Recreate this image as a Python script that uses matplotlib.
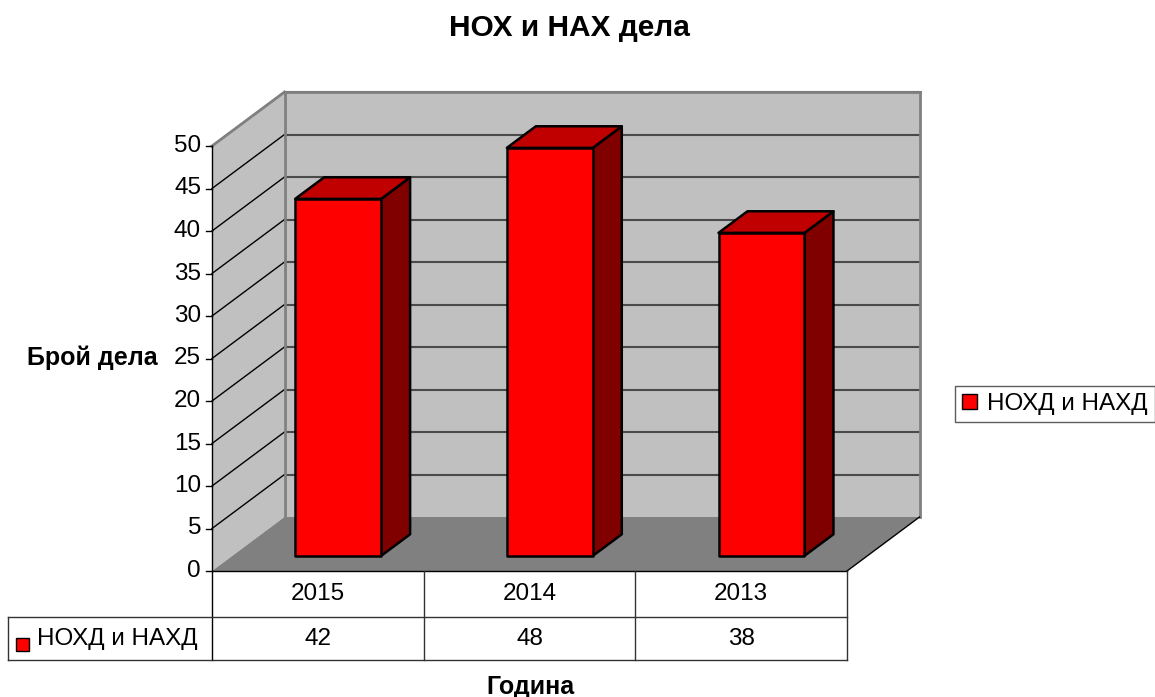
import matplotlib
matplotlib.use("Agg")
import matplotlib.pyplot as plt
from matplotlib.patches import Polygon, Rectangle, Patch

# ---------------- data ----------------
categories = ["2015", "2014", "2013"]
values = [42, 48, 38]
series_name = "НОХД и НАХД"
title = "НОХ и НАХ дела"
ylabel = "Брой дела"
xlabel = "Година"
yticks = list(range(0, 51, 5))

# ---------------- layout constants (pixels) ----------------
W, H = 1155, 697
X0, CW = 212.0, 211.67   # front-plane x of category 0, width of one category
Y0, VH = 571.0, 8.5      # front-plane y of value 0, pixels per unit
DXP, DYP = 72.5, 54.0    # depth offset in pixels
FS = 17.5

plt.rcParams['font.family'] = ['Liberation Sans', 'DejaVu Sans']

fig = plt.figure(figsize=(W / 100, H / 100), dpi=100)
ax = fig.add_axes([0, 0, 1, 1])
ax.set_xlim((0 - X0) / CW, (W - X0) / CW)
ax.set_ylim((Y0 - H) / VH, Y0 / VH)
ax.axis('off')

DX = DXP / CW
DY = DYP / VH
n = len(categories)
vmax = yticks[-1]


def px(x):
    return (x - X0) / CW


def py(y):
    return (Y0 - y) / VH


def P(u, v, d):
    """point on category axis u, value v, depth fraction d"""
    return (u + d * DX, v + d * DY)


wall = '#C0C0C0'
floor = '#808080'
edge = '#808080'

# back wall
ax.add_patch(Polygon([P(0, 0, 1), P(n, 0, 1), P(n, vmax, 1), P(0, vmax, 1)],
                     closed=True, fc=wall, ec='none', zorder=1))
# left wall
ax.add_patch(Polygon([P(0, 0, 0), P(0, 0, 1), P(0, vmax, 1), P(0, vmax, 0)],
                     closed=True, fc=wall, ec='none', zorder=1))
# floor
ax.add_patch(Polygon([P(0, 0, 0), P(n, 0, 0), P(n, 0, 1), P(0, 0, 1)],
                     closed=True, fc=floor, ec='none', zorder=1))

# gridlines
for t in yticks[1:]:
    xs, ys = zip(P(0, t, 0), P(0, t, 1))
    ax.plot(xs, ys, color='black', lw=1.0, zorder=2)
    xs, ys = zip(P(0, t, 1), P(n, t, 1))
    ax.plot(xs, ys, color='#4a4a4a', lw=1.5, zorder=2)

# wall edges
for a, b in [(P(0, 0, 1), P(0, vmax, 1)), (P(0, vmax, 0), P(0, vmax, 1)),
             (P(0, vmax, 1), P(n, vmax, 1)), (P(n, vmax, 1), P(n, 0, 1))]:
    ax.plot([a[0], b[0]], [a[1], b[1]], color=edge, lw=2, zorder=2,
            solid_capstyle='projecting')
# floor right diagonal
a, b = P(n, 0, 0), P(n, 0, 1)
ax.plot([a[0], b[0]], [a[1], b[1]], color='black', lw=1, zorder=2)

# bars
bw = 0.406
d0, d1 = 0.28, 0.68
for i, v in enumerate(values):
    l = i + 0.5 - bw / 2
    r = i + 0.5 + bw / 2
    front = [P(l, 0, d0), P(r, 0, d0), P(r, v, d0), P(l, v, d0)]
    top = [P(l, v, d0), P(r, v, d0), P(r, v, d1), P(l, v, d1)]
    side = [P(r, 0, d0), P(r, 0, d1), P(r, v, d1), P(r, v, d0)]
    ax.add_patch(Polygon(side, closed=True, fc='#800000', ec='black', lw=1.8, zorder=5, joinstyle='round'))
    ax.add_patch(Polygon(top, closed=True, fc='#C00000', ec='black', lw=1.8, zorder=5, joinstyle='round'))
    ax.add_patch(Polygon(front, closed=True, fc='#FF0000', ec='black', lw=1.8, zorder=6, joinstyle='round'))

# y axis line, ticks, labels
ax.plot([0, 0], [py(660), vmax], color='black', lw=1, zorder=7)
for t in yticks:
    ax.plot([px(206), 0], [t, t], color='black', lw=1, zorder=7)
    ax.text(px(201), t, str(t), ha='right', va='center', fontsize=FS, zorder=7)

# data table
rows_y = [Y0, 617, 660]
ax.plot([0, n], [py(rows_y[0])] * 2, color='black', lw=1, zorder=7)
ax.plot([px(8), n], [py(rows_y[1])] * 2, color='#333333', lw=1, zorder=7)
ax.plot([px(8), n], [py(rows_y[2])] * 2, color='#333333', lw=1, zorder=7)
ax.plot([px(8), px(8)], [py(rows_y[1]), py(rows_y[2])], color='#333333', lw=1, zorder=7)
for k in range(1, n + 1):
    ax.plot([k, k], [py(rows_y[0]), py(rows_y[2])], color='#333333', lw=1, zorder=7)
for i, (c, v) in enumerate(zip(categories, values)):
    ax.text(i + 0.5, py(594), c, ha='center', va='center', fontsize=FS)
    ax.text(i + 0.5, py(639), str(v), ha='center', va='center', fontsize=FS)
# legend key in table
ax.add_patch(Rectangle((px(16), py(651)), 13 / CW, 13 / VH, fc='#FF0000', ec='black', lw=1, zorder=7))
ax.text(px(37), py(639), series_name, ha='left', va='center', fontsize=FS)

# titles
ax.text(px(569), py(28), title, ha='center', va='center', fontsize=21.5, fontweight='bold')
ax.text(px(92), py(358), ylabel, ha='center', va='center', fontsize=18, fontweight='bold')
ax.text(px(530), py(687), xlabel, ha='center', va='center', fontsize=18, fontweight='bold')

# legend
leg = ax.legend(handles=[Patch(fc='#FF0000', ec='black', lw=1, label=series_name)],
                loc='center left', bbox_to_anchor=(px(955), py(404)), bbox_transform=ax.transData,
                fontsize=FS, frameon=True, fancybox=False, borderpad=0.3,
                handlelength=0.6, handleheight=0.6, handletextpad=0.4, borderaxespad=0)
leg.get_frame().set_edgecolor('#333333')
leg.get_frame().set_linewidth(1)

fig.savefig('out.png', dpi=100)
